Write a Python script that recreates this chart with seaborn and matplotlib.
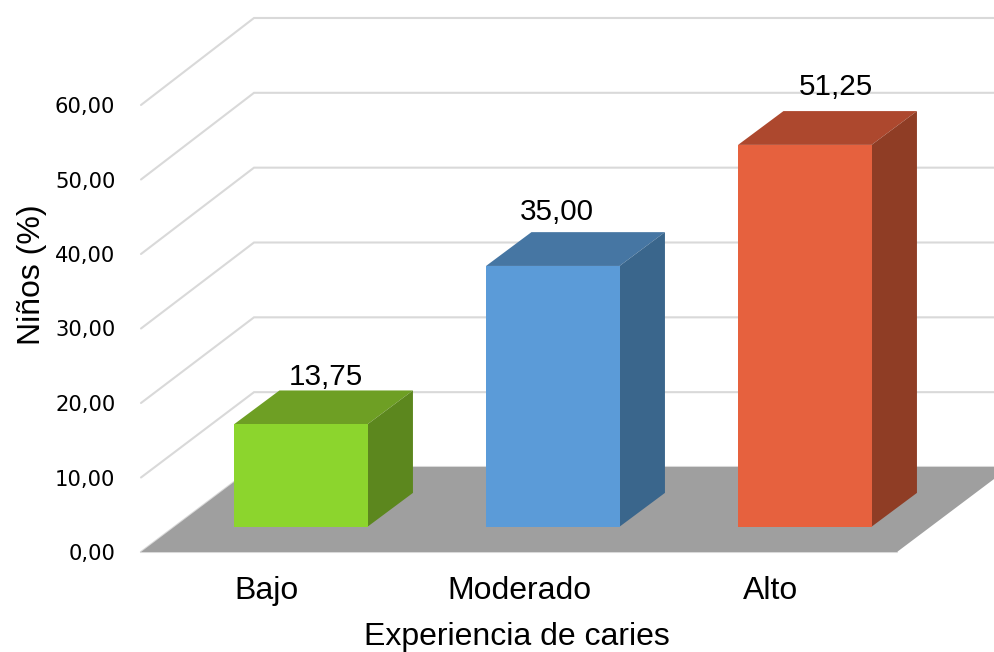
import matplotlib
matplotlib.use("Agg")
import matplotlib.pyplot as plt
from matplotlib.transforms import ScaledTranslation
import pandas as pd
import seaborn as sns

categories = ["Bajo", "Moderado", "Alto"]
values = [13.75, 35.00, 51.25]
y_ticks = [0, 10, 20, 30, 40, 50, 60]

front_colors = ["#8CD52D", "#5B9BD8", "#E6613E"]
top_colors = ["#6E9F24", "#4676A3", "#AD482E"]
side_colors = ["#5C871E", "#3A668C", "#8F3D25"]
FLOOR = "#9F9F9F"
GRID = "#D9D9D9"

W, H, DPI = 995, 652, 100
LEFT, RIGHT, Y0, Y60 = 141, 897, 552, 105

sns.set_theme(style="white")
plt.rcParams["font.family"] = ["Liberation Sans", "DejaVu Sans"]

fig = plt.figure(figsize=(W / DPI, H / DPI), dpi=DPI)
ax = fig.add_axes([LEFT / W, (H - Y0) / H, (RIGHT - LEFT) / W, (Y0 - Y60) / H])

# pixel lengths expressed in data units
ux = 3 / (RIGHT - LEFT)
uy = 60 / (Y0 - Y60)

# wall and floor depth, in pixels
WALL_DX, WALL_DY = 113, 85
# the back wall reads slightly taller than the front plane
BACK_SCALE = 1.0045
# bar placement on the floor and bar depth, in pixels
BAR_DX, BAR_DY = 33.8, 25.3
DEPTH_DX, DEPTH_DY = 45.4, 33.8
BAR_W = 133.5 * ux

# floor
ax.fill(
    [-0.5, 2.5, 2.5 + WALL_DX * ux, -0.5 + WALL_DX * ux],
    [0, 0, WALL_DY * uy, WALL_DY * uy],
    color=FLOOR, lw=0, zorder=1.5, clip_on=False,
)

# gridlines across the side wall and back wall
far_right = 2.5 + 140 * ux
for v in y_ticks:
    if v == 0:
        ax.plot([-0.5, 2.5], [0, 0], color=GRID, lw=1.5, zorder=1.4, clip_on=False)
    back = v * BACK_SCALE + WALL_DY * uy
    ax.plot(
        [-0.5, -0.5 + WALL_DX * ux, far_right],
        [v, back, back],
        color=GRID, lw=1.5, zorder=1.4 if v == 0 else 1.6, clip_on=False,
        solid_joinstyle="miter",
    )

# front faces, shifted back onto the floor
shift = ax.transData + ScaledTranslation(BAR_DX / DPI, BAR_DY / DPI, fig.dpi_scale_trans)
df = pd.DataFrame({"nivel": categories, "pct": values})
sns.barplot(
    data=df, x="nivel", y="pct", hue="nivel", palette=front_colors, saturation=1,
    width=BAR_W, dodge=False, legend=False, linewidth=0, ax=ax,
    transform=shift, zorder=4, clip_on=False,
)

# top and right faces of each bar
for i, v in enumerate(values):
    x0 = i - BAR_W / 2 + BAR_DX * ux
    x1 = i + BAR_W / 2 + BAR_DX * ux
    b = BAR_DY * uy
    t = v + b
    ddx, ddy = DEPTH_DX * ux, DEPTH_DY * uy
    ax.fill([x0, x1, x1 + ddx, x0 + ddx], [t, t, t + ddy, t + ddy],
            color=top_colors[i], lw=0, zorder=3, clip_on=False)
    ax.fill([x1, x1 + ddx, x1 + ddx, x1], [b, b + ddy, t + ddy, t],
            color=side_colors[i], lw=0, zorder=3, clip_on=False)

# value labels above each bar
label_offsets = [(58.5, 73), (37.5, 79), (64.5, 83)]
for i, v in enumerate(values):
    ox, oy = label_offsets[i]
    ax.annotate(
        f"{v:.2f}".replace(".", ","), xy=(i, v), xycoords="data",
        xytext=(ox * 72 / DPI, oy * 72 / DPI), textcoords="offset points",
        ha="center", va="center", fontsize=21.3, color="black", zorder=6,
    )

ax.set_xlim(-0.5, 2.5)
ax.set_ylim(0, 60)
ax.set_yticks(y_ticks)
ax.set_yticklabels(
    [f"{v:.2f}".replace(".", ",") for v in y_ticks],
    family="DejaVu Sans", fontsize=15.2, color="black",
)
ax.set_xticks(range(len(categories)))
ax.set_xticklabels(categories, fontsize=23, color="black")
ax.tick_params(axis="x", length=0, pad=17)
ax.tick_params(axis="y", length=0, pad=18.5)
ax.patch.set_alpha(0)
sns.despine(ax=ax, left=True, bottom=True, top=True, right=True)

ax.set_xlabel("Experiencia de caries", fontsize=23, color="black")
ax.set_ylabel("Niños (%)", fontsize=23, color="black")
ax.xaxis.set_label_coords((517 - LEFT) / (RIGHT - LEFT), -(622 - Y0) / (Y0 - Y60), transform=ax.transAxes)
ax.yaxis.set_label_coords((47 - LEFT) / (RIGHT - LEFT), (Y0 - 275) / (Y0 - Y60), transform=ax.transAxes)

fig.savefig("out.png", dpi=DPI, facecolor="white")
